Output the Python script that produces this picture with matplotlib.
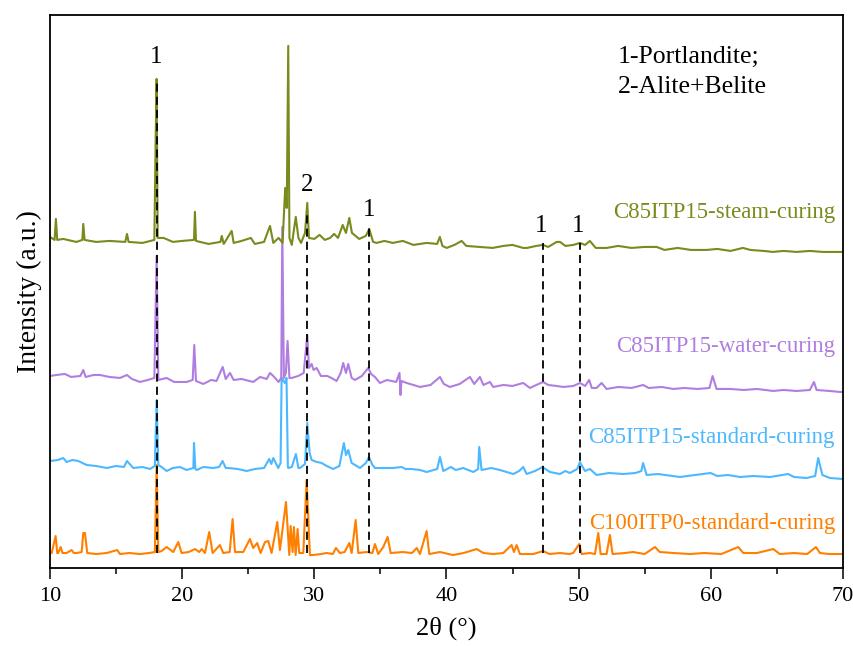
import numpy as np
import matplotlib
matplotlib.use("Agg")
import matplotlib.pyplot as plt

plt.rcParams['font.family'] = 'serif'
plt.rcParams['font.serif'] = ['Liberation Serif', 'DejaVu Serif']

# XRD traces: (2theta, intensity a.u.) with offsets already included
steam_x = [10.0, 10.35, 10.45, 10.55, 11.0, 12.0, 12.45, 12.52, 12.62, 13.5, 14.5, 15.7, 15.83, 15.95,
           17.0, 17.9, 18.0, 18.07, 18.15, 18.6, 19.3, 20.0, 20.9, 20.97, 21.05, 22.0, 22.9, 23.0, 23.15,
           23.75, 23.9, 24.5, 25.2, 25.5, 26.2, 26.65, 26.9, 27.3, 27.6, 27.8, 27.92, 28.03, 28.12, 28.3,
           28.6, 28.8, 29.0, 29.3, 29.47, 29.6, 30.0, 30.4, 30.8, 31.2, 31.5, 31.8, 32.15, 32.4, 32.65,
           32.85, 33.4, 33.9, 34.16, 34.45, 34.72, 35.3, 35.95, 36.7, 37.5, 38.5, 39.3, 39.5, 39.7, 40.02,
           40.6, 41.15, 41.5, 42.5, 43.5, 44.3, 45.0, 45.8, 46.1, 46.8, 47.3, 47.7, 48.34, 48.6, 49.0,
           49.6, 50.1, 50.5, 50.85, 51.3, 52.12, 53.0, 54.0, 55.0, 55.9, 56.5, 57.5, 58.5, 59.69, 60.5,
           61.5, 62.43, 63.0, 64.0, 64.7, 65.5, 66.5, 67.5, 68.5, 70.0]
steam_y = [331, 328, 349, 328, 329, 326, 328, 344, 328, 326, 327, 326, 334, 326,
           325, 328, 430, 489, 330, 330, 326, 327, 328, 356, 327, 324, 326, 332, 324,
           337, 325, 327, 330, 324, 326, 342, 325, 330, 325, 380, 360, 522, 330, 323,
           351, 330, 325, 335, 365, 330, 329, 333, 328, 330, 334, 330, 343, 335, 350,
           335, 329, 332, 339, 326, 325, 327, 325, 327, 323, 325, 324, 331, 322, 320,
           323, 327, 322, 321, 320, 322, 323, 320, 320, 322, 323, 321, 326, 326, 322,
           323, 325, 323, 327, 320, 320, 322, 320, 321, 321, 318, 320, 318, 318, 319,
           317, 320, 318, 317, 316, 317, 316, 317, 316, 316]

water_x = [10.0, 10.5, 11.13, 11.6, 12.3, 12.52, 12.7, 13.3, 13.78, 14.5, 15.3, 15.83, 16.2, 16.81,
           17.4, 17.9, 18.07, 18.2, 18.83, 19.4, 20.34, 20.8, 20.92, 21.05, 21.6, 22.2, 22.6, 23.07,
           23.3, 23.62, 23.9, 24.5, 25.38, 25.9, 26.4, 26.65, 26.9, 27.3, 27.5, 27.58, 27.7, 27.85,
           27.98, 28.12, 28.29, 28.79, 29.2, 29.47, 29.6, 29.8, 29.95, 30.18, 30.5, 30.98, 31.3, 31.69,
           32.0, 32.19, 32.4, 32.57, 32.83, 33.08, 33.6, 34.08, 34.3, 34.59, 34.97, 35.5, 36.2, 36.45,
           36.52, 36.6, 36.99, 37.5, 38.0, 38.8, 39.51, 39.8, 40.26, 41.0, 41.78, 42.1, 42.53, 42.8,
           43.29, 43.54, 44.3, 45.0, 45.81, 46.32, 46.8, 47.32, 47.7, 48.34, 48.84, 49.6, 50.1, 50.5,
           50.8, 51.0, 51.36, 51.74, 52.12, 53.0, 54.0, 54.89, 55.3, 56.3, 57.16, 58.0, 59.0, 59.9,
           60.14, 60.44, 61.5, 62.5, 63.5, 64.73, 65.5, 66.5, 67.5, 67.81, 68.01, 69.0, 69.77, 70.0]
water_y = [192, 193, 194, 191, 192, 198, 191, 193, 193, 191, 190, 193, 189, 186,
           188, 190, 312, 188, 190, 186, 186, 188, 223, 187, 184, 188, 187, 201,
           189, 195, 188, 189, 186, 191, 189, 195, 192, 186, 190, 341, 190, 195,
           227, 190, 190, 192, 195, 233, 200, 204, 198, 200, 192, 192, 190, 187,
           195, 205, 195, 204, 190, 188, 192, 200, 194, 191, 185, 188, 186, 195,
           173, 187, 185, 183, 181, 183, 191, 184, 181, 184, 191, 184, 191, 183,
           186, 181, 183, 182, 185, 180, 183, 186, 183, 182, 181, 182, 185, 182,
           188, 180, 180, 185, 179, 181, 180, 183, 180, 181, 179, 180, 179, 180,
           192, 179, 179, 178, 179, 177, 178, 177, 178, 186, 178, 177, 176, 176]

std_x = [10.0, 10.6, 11.01, 11.26, 11.7, 12.14, 12.78, 13.5, 14.29, 15.0, 15.6, 15.83, 16.3, 17.0,
         17.57, 17.94, 18.07, 18.2, 18.45, 18.83, 19.3, 19.84, 20.34, 20.85, 20.9, 21.0, 21.1, 21.6,
         22.36, 22.8, 23.06, 23.3, 23.49, 24.2, 24.88, 25.5, 26.2, 26.59, 26.75, 26.9, 27.27, 27.45,
         27.53, 27.78, 27.9, 28.0, 28.03, 28.3, 28.61, 28.8, 28.92, 29.3, 29.47, 29.65, 29.8, 30.2,
         30.56, 30.94, 31.43, 31.9, 32.24, 32.4, 32.57, 32.83, 33.46, 33.9, 34.14, 34.4, 34.59, 35.3,
         35.97, 36.61, 36.9, 37.37, 38.0, 38.5, 39.3, 39.51, 39.76, 40.34, 40.7, 41.27, 42.03, 42.4,
         42.48, 42.66, 43.4, 44.05, 45.05, 45.5, 45.81, 46.07, 46.7, 47.27, 47.83, 48.59, 49.0, 49.34,
         49.9, 50.1, 50.48, 50.86, 51.36, 52.3, 53.38, 54.3, 54.75, 54.88, 55.15, 56.0, 57.67, 58.8,
         59.99, 60.5, 61.3, 62.21, 63.2, 64.5, 65.86, 66.3, 67.25, 67.9, 68.13, 68.3, 68.45, 69.02, 70.0]
std_y = [107, 108, 110, 106, 108, 107, 103, 102, 100, 102, 101, 107, 100, 101,
         99, 102, 168, 103, 101, 97, 100, 101, 98, 100, 125, 99, 98, 101,
         100, 101, 107, 100, 100, 99, 97, 99, 100, 109, 104, 110, 100, 105,
         190, 185, 190, 102, 100, 101, 114, 100, 100, 104, 145, 115, 108, 106,
         105, 102, 99, 102, 125, 113, 118, 105, 100, 105, 111, 103, 100, 100,
         100, 101, 99, 99, 98, 96, 99, 111, 97, 101, 98, 100, 96, 99,
         121, 98, 100, 98, 94, 97, 101, 94, 97, 101, 96, 94, 97, 95,
         99, 106, 97, 99, 93, 95, 94, 95, 97, 105, 93, 94, 91, 93,
         95, 92, 93, 91, 92, 91, 94, 91, 90, 92, 110, 101, 93, 90, 89]

c100_x = [10.0, 10.13, 10.43, 10.55, 10.63, 10.81, 10.95, 11.26, 11.64, 11.8, 12.02, 12.4, 12.52, 12.65,
          12.82, 13.5, 14.29, 15.09, 15.3, 16.0, 16.81, 17.5, 17.94, 18.07, 18.2, 18.45, 18.83, 19.33,
          19.71, 19.96, 20.5, 20.97, 21.3, 21.48, 21.73, 22.05, 22.31, 22.86, 23.11, 23.6, 23.82, 24.0,
          24.63, 25.13, 25.38, 25.68, 25.94, 26.27, 26.52, 26.77, 27.2, 27.4, 27.86, 28.11, 28.21, 28.36,
          28.46, 28.59, 28.74, 28.86, 29.17, 29.42, 29.67, 29.92, 30.5, 30.94, 31.4, 31.64, 31.94, 32.3,
          32.65, 32.83, 33.13, 33.33, 33.96, 34.4, 34.59, 34.84, 35.22, 35.55, 35.78, 36.7, 37.4, 37.75,
          38.0, 38.5, 38.7, 39.51, 40.5, 41.3, 42.29, 42.8, 43.54, 44.3, 44.93, 45.11, 45.31, 45.56,
          46.57, 47.32, 47.8, 48.59, 49.3, 49.59, 50.05, 50.23, 50.86, 51.24, 51.49, 51.67, 52.12, 52.37,
          52.57, 53.5, 54.13, 55.0, 55.78, 56.15, 57.2, 58.42, 59.5, 60.8, 62.08, 62.46, 63.5, 64.73,
          65.23, 66.3, 67.3, 67.96, 68.26, 69.0, 70.0]
c100_y = [15, 15, 32, 15, 15, 21, 15, 15, 18, 15, 15, 16, 35, 35,
          15, 14, 15, 18, 14, 15, 14, 15, 16, 103, 16, 17, 21, 16,
          26, 15, 16, 19, 16, 19, 15, 36, 15, 23, 15, 16, 49, 16,
          16, 29, 20, 25, 15, 26, 27, 15, 46, 18, 66, 13, 42, 16,
          41, 13, 39, 15, 15, 88, 13, 13, 14, 15, 14, 20, 15, 16,
          25, 15, 48, 15, 16, 15, 24, 14, 21, 31, 15, 16, 15, 20,
          14, 37, 14, 16, 13, 15, 19, 15, 14, 15, 23, 16, 23, 14,
          14, 17, 14, 15, 14, 15, 24, 14, 15, 14, 35, 14, 14, 33,
          14, 15, 16, 14, 21, 16, 15, 14, 15, 14, 21, 15, 15, 19,
          14, 15, 14, 21, 15, 14, 14]

# reference lines and their labels
ref_pos = [18.07, 29.47, 34.16, 47.3, 50.1]
ref_top = [489, 356, 341, 325, 325]
ref_lab = ['1', '2', '1', '1', '1']
ref_lab_x = [18.07, 29.47, 34.16, 47.15, 49.95]
ref_lab_y = [511, 383, 358, 342, 342]

names = ['C100ITP0-standard-curing', 'C85ITP15-standard-curing',
         'C85ITP15-water-curing', 'C85ITP15-steam-curing']
name_y = [45, 130, 221, 355]
colors = ['#ff8000', '#4cb8ff', '#b07ee0', '#7a8a1c']

fig = plt.figure(figsize=(8.54, 6.46), dpi=100)
ax = fig.add_axes([0.0585, 0.1207, 0.9285, 0.8563])

series = [(c100_x, c100_y), (std_x, std_y), (water_x, water_y), (steam_x, steam_y)]
for (xs, ys), c in zip(series, colors):
    ax.plot(xs, ys, color=c, lw=1.5, zorder=2)

for p, t in zip(ref_pos, ref_top):
    ax.plot([p, p], [15, t], color='black', lw=1.3, dashes=(4.5, 2.8), zorder=3)
for lx, ly, s in zip(ref_lab_x, ref_lab_y, ref_lab):
    ax.text(lx, ly, s, ha='center', va='center', fontsize=18)

for n, y, c in zip(names, name_y, colors):
    ax.text(69.4, y, n, ha='right', va='center', fontsize=16.5, color=c)

ax.text(52.98, 511, '1-Portlandite;', ha='left', va='center', fontsize=18.5)
ax.text(52.98, 481, '2-Alite+Belite', ha='left', va='center', fontsize=18.5)

ax.set_xlim(10, 70)
ax.set_ylim(0, 553)
ax.set_xticks(np.arange(10, 71, 10))
ax.set_xticks(np.arange(15, 70, 10), minor=True)
ax.set_yticks([])
ax.tick_params(axis='x', which='major', length=8, width=1.1, labelsize=16, pad=6, direction='out')
ax.tick_params(axis='x', which='minor', length=4, width=1.1, direction='out')
for sp in ax.spines.values():
    sp.set_linewidth(1.3)

ax.set_xlabel('2θ (°)', fontsize=19, labelpad=7)
ax.set_ylabel('Intensity (a.u.)', fontsize=20, labelpad=6)

fig.savefig('out.png', dpi=100)
